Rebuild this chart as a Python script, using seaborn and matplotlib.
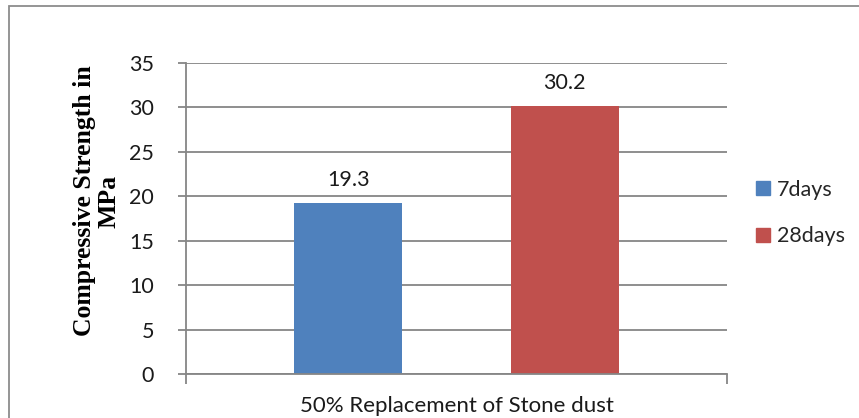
import matplotlib
matplotlib.use("Agg")
import matplotlib.pyplot as plt
from matplotlib.patches import Rectangle
import seaborn as sns
import pandas as pd

# Data
series = ["7days", "28days"]
strength = [19.3, 30.2]
bar_colors = ["#4F81BD", "#C0504D"]
y_ticks = [0, 5, 10, 15, 20, 25, 30, 35]
x_title = "50% Replacement of Stone dust"
y_title = "Compressive Strength in\nMPa"

sns.set_theme(style="white")
plt.rcParams["font.family"] = ["Lato", "DejaVu Sans"]

df = pd.DataFrame({"age": series, "strength": strength})

fig = plt.figure(figsize=(8.59, 4.18), dpi=100)
ax = fig.add_axes([186 / 859, 1 - 374 / 418, (727 - 186) / 859, (374 - 63) / 418])

sns.barplot(data=df, x="age", y="strength", hue="age", palette=bar_colors,
            width=0.5, dodge=False, legend=False, ax=ax, saturation=1,
            linewidth=0)

txt_col = "#1a1a1a"
fs = 15.5
grid_col = "#868686"
ax.set_ylim(0, 35)
ax.set_xlim(-0.75, 1.75)
ax.set_yticks(y_ticks)
ax.set_yticklabels([str(v) for v in y_ticks], fontsize=15.5, color=txt_col)
ax.yaxis.grid(True, color=grid_col, linewidth=1.3)
ax.set_axisbelow(True)
ax.tick_params(axis="y", length=6, width=1.3, color=grid_col, left=True, pad=17)

# Category boundary ticks on the x axis
ax.set_xticks([-0.75, 1.75])
ax.set_xticklabels(["", ""])
ax.tick_params(axis="x", length=7, width=1.3, color=grid_col, bottom=True, direction="out")

for s in ["top", "right"]:
    ax.spines[s].set_visible(False)
for s in ["left", "bottom"]:
    ax.spines[s].set_color(grid_col)
    ax.spines[s].set_linewidth(1.3)

# Value labels
for i, v in enumerate(strength):
    ax.annotate(f"{v}", (i, v), xytext=(0, 9), textcoords="offset points",
                ha="center", va="bottom", fontsize=fs, color=txt_col)

ax.set_xlabel(x_title, fontsize=16, color=txt_col, labelpad=5)
ax.set_ylabel(y_title, fontsize=18.5, fontweight="bold", color="black",
              family=["Liberation Serif", "DejaVu Serif"], linespacing=1.1)
ax.yaxis.set_label_coords(-0.121, 0.556)

# Legend
handles = [Rectangle((0, 0), 1, 1, color=c) for c in bar_colors]
fig.legend(handles, series, loc="center left", bbox_to_anchor=(737 / 859, 1 - 213 / 418),
           frameon=False, fontsize=fs, handlelength=0.65, handleheight=0.65,
           handletextpad=0.3, labelspacing=1.25)

# Chart frame
fig.patches.append(Rectangle((9 / 859, -0.2), 1.2, 1 - 6 / 418 + 0.2,
                             transform=fig.transFigure, fill=False,
                             edgecolor="#8c8c8c", linewidth=1.3))

fig.savefig("out.png", dpi=100)
